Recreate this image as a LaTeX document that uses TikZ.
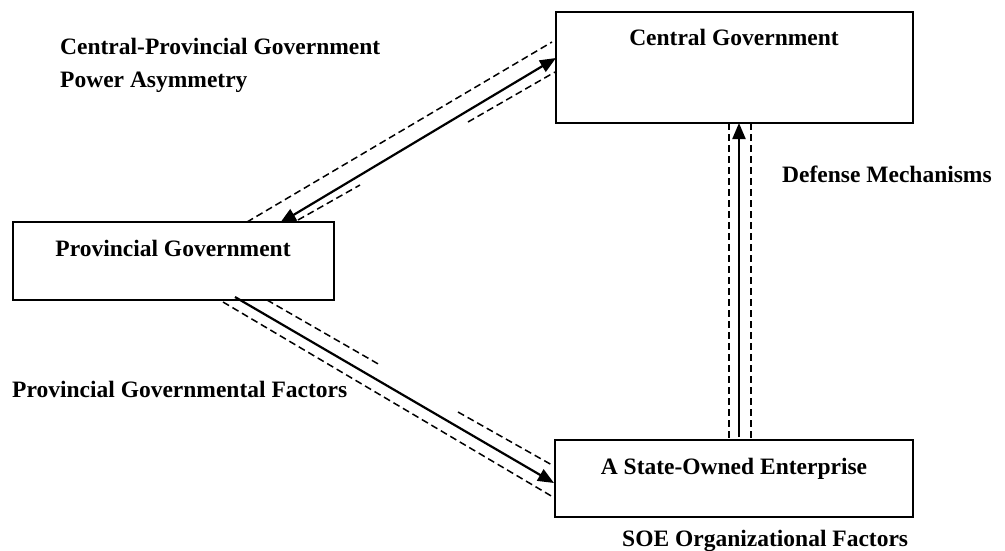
\documentclass[tikz,border=0pt]{standalone}
\usepackage{fontspec}
\setmainfont{Liberation Serif}
\usetikzlibrary{arrows.meta}
\begin{document}
\begin{tikzpicture}[x=1pt,y=-1pt,
  lbl/.style={font=\fontsize{23.5}{33}\selectfont\bfseries, inner sep=0pt, anchor=base west},
  actor/.style={draw, line width=1.8pt, inner sep=0pt},
  tip/.tip={Triangle[length=16pt,width=13pt]},
  link/.style={line width=2.2pt, -tip},
  twolink/.style={line width=2.2pt, tip-tip},
  rail/.style={line width=1.5pt, dash pattern=on 7pt off 4pt}]
\useasboundingbox (0,0) rectangle (1005,550);

% boxes
\node[actor, minimum width=357pt, minimum height=111pt] (cg) at (734.5,67.5) {};
\node[actor, minimum width=321pt, minimum height=78pt] (pg) at (173.5,261) {};
\node[actor, minimum width=358pt, minimum height=77pt] (soe) at (734,478.5) {};

% box titles
\node[lbl, anchor=base] (cgt) at (734,45) {Central Government};
\node[lbl, anchor=base] (pgt) at (173,256) {Provincial Government};
\node[lbl, anchor=base] (soet) at (734,474) {A State-Owned Enterprise};

% factor labels
\node[lbl, align=left, anchor=north west] (asym) at (60,38) {Central-Provincial Government\\Power Asymmetry};
\node[lbl] (defm) at (782,182) {Defense Mechanisms};
\node[lbl] (pgf) at (12,397) {Provincial Governmental Factors};
\node[lbl] (soef) at (622,546) {SOE Organizational Factors};

% connector end points
\coordinate (a1) at (280,223);
\coordinate (a2) at (556,58);
\coordinate (b1) at (235,297);
\coordinate (b2) at (554,483);
\coordinate (c1) at (739,437);
\coordinate (c2) at (739,123);

% connectors
\draw[twolink] (a1) -- (a2);
\draw[link] (b1) -- (b2);
\draw[link] (c1) -- (c2);

% dashed rails along the connectors
\coordinate (r1) at (247,222); \coordinate (r2) at (552,42);
\coordinate (r3) at (298,220); \coordinate (r4) at (360,185);
\coordinate (r5) at (468,122); \coordinate (r6) at (555,72);
\draw[rail] (r1) -- (r2);
\draw[rail] (r3) -- (r4);
\draw[rail] (r5) -- (r6);

\coordinate (s1) at (267,300); \coordinate (s2) at (380,365);
\coordinate (s3) at (458,412); \coordinate (s4) at (552,465);
\coordinate (s5) at (223,302); \coordinate (s6) at (553,497);
\draw[rail] (s1) -- (s2);
\draw[rail] (s3) -- (s4);
\draw[rail] (s5) -- (s6);

\coordinate (t1) at (729,123); \coordinate (t2) at (729,440);
\coordinate (t3) at (751,123); \coordinate (t4) at (751,440);
\draw[rail] (t1) -- (t2);
\draw[rail] (t3) -- (t4);
\end{tikzpicture}
\end{document}
